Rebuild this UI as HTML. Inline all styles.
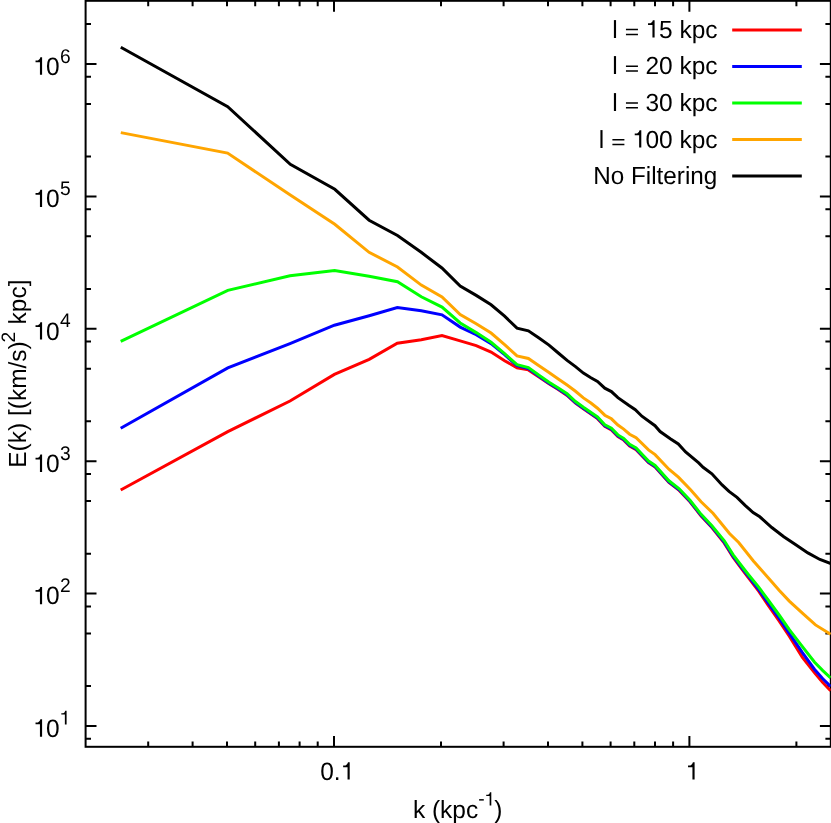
<!DOCTYPE html>
<html><head><meta charset="utf-8"><title>E(k)</title>
<style>
html,body{margin:0;padding:0;background:#fff;}
body{width:831px;height:823px;overflow:hidden;}
svg{display:block;will-change:transform;}
text{font-family:"Liberation Sans",sans-serif;fill:#000;text-rendering:geometricPrecision;}
</style></head><body>
<svg width="831" height="823" viewBox="0 0 831 823">
<rect x="0" y="0" width="831" height="823" fill="#fff"/>
<g stroke="#000" stroke-width="2" fill="none" stroke-linecap="butt">
<rect x="85.6" y="0.8" width="745.2" height="746.0"/>
<path d="M148.2 746.8V741.4M148.2 0.8V6.2"/>
<path d="M192.6 746.8V741.4M192.6 0.8V6.2"/>
<path d="M227.0 746.8V741.4M227.0 0.8V6.2"/>
<path d="M255.2 746.8V741.4M255.2 0.8V6.2"/>
<path d="M278.9 746.8V741.4M278.9 0.8V6.2"/>
<path d="M299.6 746.8V741.4M299.6 0.8V6.2"/>
<path d="M317.7 746.8V741.4M317.7 0.8V6.2"/>
<path d="M334.0 746.8V735.9M334.0 0.8V11.7"/>
<path d="M441.0 746.8V741.4M441.0 0.8V6.2"/>
<path d="M503.6 746.8V741.4M503.6 0.8V6.2"/>
<path d="M548.0 746.8V741.4M548.0 0.8V6.2"/>
<path d="M582.4 746.8V741.4M582.4 0.8V6.2"/>
<path d="M610.6 746.8V741.4M610.6 0.8V6.2"/>
<path d="M634.3 746.8V741.4M634.3 0.8V6.2"/>
<path d="M655.0 746.8V741.4M655.0 0.8V6.2"/>
<path d="M673.1 746.8V741.4M673.1 0.8V6.2"/>
<path d="M689.4 746.8V735.9M689.4 0.8V11.7"/>
<path d="M796.4 746.8V741.4M796.4 0.8V6.2"/>
<path d="M85.6 738.8H91.0M830.8 738.8H825.4"/>
<path d="M85.6 726.0H96.5M830.8 726.0H819.9"/>
<path d="M85.6 686.1H91.0M830.8 686.1H825.4"/>
<path d="M85.6 633.5H91.0M830.8 633.5H825.4"/>
<path d="M85.6 606.4H91.0M830.8 606.4H825.4"/>
<path d="M85.6 593.6H96.5M830.8 593.6H819.9"/>
<path d="M85.6 553.7H91.0M830.8 553.7H825.4"/>
<path d="M85.6 501.1H91.0M830.8 501.1H825.4"/>
<path d="M85.6 474.0H91.0M830.8 474.0H825.4"/>
<path d="M85.6 461.2H96.5M830.8 461.2H819.9"/>
<path d="M85.6 421.3H91.0M830.8 421.3H825.4"/>
<path d="M85.6 368.7H91.0M830.8 368.7H825.4"/>
<path d="M85.6 341.6H91.0M830.8 341.6H825.4"/>
<path d="M85.6 328.8H96.5M830.8 328.8H819.9"/>
<path d="M85.6 288.9H91.0M830.8 288.9H825.4"/>
<path d="M85.6 236.3H91.0M830.8 236.3H825.4"/>
<path d="M85.6 209.2H91.0M830.8 209.2H825.4"/>
<path d="M85.6 196.4H96.5M830.8 196.4H819.9"/>
<path d="M85.6 156.5H91.0M830.8 156.5H825.4"/>
<path d="M85.6 103.9H91.0M830.8 103.9H825.4"/>
<path d="M85.6 76.8H91.0M830.8 76.8H825.4"/>
<path d="M85.6 64.0H96.5M830.8 64.0H819.9"/>
<path d="M85.6 24.1H91.0M830.8 24.1H825.4"/>
</g>
<defs><clipPath id="c"><rect x="85.6" y="0.8" width="745.2" height="746.0"/></clipPath></defs>
<g clip-path="url(#c)" fill="none" stroke-width="3" stroke-linejoin="miter" stroke-linecap="butt">
<polyline stroke="#ff0000" points="120.7,490.0 227.8,431.7 290.0,401.0 334.4,374.4 369.2,359.3 397.3,343.3 421.3,339.8 442.0,335.6 460.2,340.9 476.2,345.6 491.1,352.0 504.6,360.7 517.0,367.7 528.4,369.9 539.0,376.9 549.0,383.8 558.3,389.6 567.1,395.4 575.5,403.1 583.4,408.9 597.5,418.6 604.8,426.3 611.4,429.9 617.9,436.5 623.7,440.1 629.6,446.0 636.1,449.6 648.5,462.7 655.1,467.1 668.9,482.4 679.2,490.4 690.0,501.8 700.9,515.7 711.9,527.6 724.3,543.1 733.2,557.3 742.4,569.8 748.3,577.5 758.5,590.9 767.4,604.1 779.1,620.8 789.3,636.2 802.4,657.4 814.6,672.9 822.8,682.6 830.6,690.7"/>
<polyline stroke="#0000ff" points="120.7,428.3 227.8,367.9 290.0,343.6 334.4,325.2 369.2,315.7 397.3,307.5 421.3,310.8 442.0,314.8 460.2,327.1 476.2,334.7 491.1,343.6 504.6,354.7 517.0,365.7 528.4,368.6 539.0,376.3 549.0,383.2 558.3,389.0 567.1,394.8 575.5,402.5 583.4,408.3 597.5,418.0 604.8,425.7 611.4,429.3 617.9,435.9 623.7,439.5 629.6,445.4 636.1,449.0 648.5,462.1 655.1,466.5 668.9,481.8 679.2,489.8 690.0,501.2 700.9,515.1 711.9,526.9 724.3,542.1 733.2,556.3 742.4,568.6 748.3,576.2 758.5,589.2 767.4,601.9 779.1,618.2 789.3,633.3 802.4,652.6 814.6,669.5 822.8,678.8 830.6,686.4"/>
<polyline stroke="#00ff00" points="120.7,341.4 227.8,290.4 290.0,275.7 334.6,270.4 369.1,276.3 397.5,281.7 421.3,296.8 442.0,307.1 460.2,323.0 476.2,332.6 491.1,342.3 504.6,353.7 517.0,364.7 528.4,367.6 539.0,375.3 549.0,382.2 558.3,388.0 567.1,393.8 575.5,401.5 583.4,407.3 597.5,417.0 604.8,424.7 611.4,428.3 617.9,434.9 623.7,438.5 629.6,444.4 636.1,448.0 648.5,461.1 655.1,465.5 668.9,480.8 679.2,488.8 690.0,500.2 700.9,514.1 711.9,525.7 724.3,540.8 733.2,554.8 742.4,567.0 748.3,574.5 758.5,586.9 767.4,599.0 779.1,615.0 789.3,629.6 802.4,646.7 814.6,662.2 822.8,670.6 830.6,677.8"/>
<polyline stroke="#ffa500" points="120.8,132.6 227.6,153.1 290.3,195.0 334.8,224.3 369.1,252.3 397.5,267.0 421.3,285.1 442.0,297.0 460.2,314.5 476.2,323.7 491.1,333.0 504.6,344.7 517.0,355.9 528.4,358.5 539.0,365.8 549.0,372.4 558.3,378.9 567.1,385.1 575.5,391.3 583.4,397.9 590.9,403.0 597.5,408.2 604.8,415.2 611.4,418.8 617.9,425.1 623.7,429.1 629.6,434.2 636.1,437.8 648.5,449.9 655.1,454.6 668.9,469.2 678.4,477.2 690.8,490.0 701.1,501.7 713.0,513.3 729.5,533.5 738.7,542.5 753.4,561.0 771.7,581.7 779.1,590.2 789.3,601.1 802.4,613.2 815.5,624.9 830.6,634.3"/>
<polyline stroke="#000000" points="120.8,47.3 227.7,106.6 290.3,164.4 334.8,189.3 369.1,220.2 397.5,235.5 421.2,252.3 441.9,268.0 460.2,286.0 476.2,295.4 491.1,304.8 504.6,316.2 517.0,328.2 528.4,330.8 539.0,338.1 549.0,345.1 558.3,353.0 567.1,360.4 575.5,366.6 583.4,373.1 590.9,377.7 597.5,381.5 604.8,388.2 611.4,391.6 617.9,397.7 628.7,405.3 635.3,409.7 641.9,416.2 655.0,425.7 660.1,431.6 670.3,438.8 678.3,444.0 685.6,452.0 698.7,462.9 703.1,467.3 711.9,473.8 722.1,484.9 729.0,491.4 737.0,497.4 745.1,505.4 753.1,512.5 759.8,516.8 771.8,527.5 783.8,536.8 795.8,544.8 807.9,552.9 819.9,559.5 830.8,563.5"/>
</g>
<line x1="732.2" y1="29.9" x2="801.8" y2="29.9" stroke="#ff0000" stroke-width="3"/>
<text transform="translate(612.2 37.5) scale(1 1.010)" font-size="24.5" text-anchor="start">l</text>
<path d="M625.95 28.85h12.0v1.5h-12.0zM625.95 33.65h12.0v1.5h-12.0z" fill="#000"/>
<path transform="translate(654.60 37.50) scale(0.02450 -0.02450)" d="M0 0H-88V508H-268V579H-170Q-92 592 -71 709H0Z" fill="#000"/>
<text transform="translate(717.6 37.5) scale(1 1.010)" font-size="24.5" text-anchor="end">5 kpc</text>
<line x1="732.2" y1="66.4" x2="801.8" y2="66.4" stroke="#0000ff" stroke-width="3"/>
<text transform="translate(612.2 74.2) scale(1 1.010)" font-size="24.5" text-anchor="start">l</text>
<path d="M625.95 65.55h12.0v1.5h-12.0zM625.95 70.35h12.0v1.5h-12.0z" fill="#000"/>
<text transform="translate(717.6 74.2) scale(1 1.010)" font-size="24.5" text-anchor="end">20 kpc</text>
<line x1="732.2" y1="103.0" x2="801.8" y2="103.0" stroke="#00ff00" stroke-width="3"/>
<text transform="translate(612.2 110.9) scale(1 1.010)" font-size="24.5" text-anchor="start">l</text>
<path d="M625.95 102.25h12.0v1.5h-12.0zM625.95 107.05h12.0v1.5h-12.0z" fill="#000"/>
<text transform="translate(717.6 110.9) scale(1 1.010)" font-size="24.5" text-anchor="end">30 kpc</text>
<line x1="732.2" y1="139.5" x2="801.8" y2="139.5" stroke="#ffa500" stroke-width="3"/>
<text transform="translate(598.7 147.6) scale(1 1.010)" font-size="24.5" text-anchor="start">l</text>
<path d="M612.40 138.95h12.0v1.5h-12.0zM612.40 143.75h12.0v1.5h-12.0z" fill="#000"/>
<path transform="translate(641.30 147.60) scale(0.02450 -0.02450)" d="M0 0H-88V508H-268V579H-170Q-92 592 -71 709H0Z" fill="#000"/>
<text transform="translate(717.6 147.6) scale(1 1.010)" font-size="24.5" text-anchor="end">00 kpc</text>
<line x1="732.2" y1="176.1" x2="801.8" y2="176.1" stroke="#000000" stroke-width="3"/>
<text transform="translate(717.3 184.3) scale(0.99 1.01)" font-size="24.5" text-anchor="end">No Filtering</text>
<path transform="translate(42.10 736.70) scale(0.02450 -0.02450)" d="M0 0H-88V508H-268V579H-170Q-92 592 -71 709H0Z" fill="#000"/>
<text transform="translate(59.6 736.7) scale(1 1.030)" font-size="24.5" text-anchor="end">0</text>
<path transform="translate(66.60 724.60) scale(0.01970 -0.01970)" d="M0 0H-88V508H-268V579H-170Q-92 592 -71 709H0Z" fill="#000"/>
<path transform="translate(42.10 604.30) scale(0.02450 -0.02450)" d="M0 0H-88V508H-268V579H-170Q-92 592 -71 709H0Z" fill="#000"/>
<text transform="translate(59.6 604.3) scale(1 1.030)" font-size="24.5" text-anchor="end">0</text>
<text transform="translate(59.9 592.2) scale(1 1.030)" font-size="19.2" text-anchor="start">2</text>
<path transform="translate(42.10 471.90) scale(0.02450 -0.02450)" d="M0 0H-88V508H-268V579H-170Q-92 592 -71 709H0Z" fill="#000"/>
<text transform="translate(59.6 471.9) scale(1 1.030)" font-size="24.5" text-anchor="end">0</text>
<text transform="translate(59.9 459.8) scale(1 1.030)" font-size="19.2" text-anchor="start">3</text>
<path transform="translate(42.10 339.50) scale(0.02450 -0.02450)" d="M0 0H-88V508H-268V579H-170Q-92 592 -71 709H0Z" fill="#000"/>
<text transform="translate(59.6 339.5) scale(1 1.030)" font-size="24.5" text-anchor="end">0</text>
<text transform="translate(59.9 327.4) scale(1 1.030)" font-size="19.2" text-anchor="start">4</text>
<path transform="translate(42.10 207.10) scale(0.02450 -0.02450)" d="M0 0H-88V508H-268V579H-170Q-92 592 -71 709H0Z" fill="#000"/>
<text transform="translate(59.6 207.1) scale(1 1.030)" font-size="24.5" text-anchor="end">0</text>
<text transform="translate(59.9 195.0) scale(1 1.030)" font-size="19.2" text-anchor="start">5</text>
<path transform="translate(42.10 74.70) scale(0.02450 -0.02450)" d="M0 0H-88V508H-268V579H-170Q-92 592 -71 709H0Z" fill="#000"/>
<text transform="translate(59.6 74.7) scale(1 1.030)" font-size="24.5" text-anchor="end">0</text>
<text transform="translate(59.9 62.6) scale(1 1.030)" font-size="19.2" text-anchor="start">6</text>
<text transform="translate(320.2 779.6) scale(1 1.030)" font-size="24.5" text-anchor="start">0.</text>
<path transform="translate(349.70 779.60) scale(0.02450 -0.02450)" d="M0 0H-88V508H-268V579H-170Q-92 592 -71 709H0Z" fill="#000"/>
<path transform="translate(694.60 779.60) scale(0.02450 -0.02450)" d="M0 0H-88V508H-268V579H-170Q-92 592 -71 709H0Z" fill="#000"/>
<text transform="translate(412.9 817.6) scale(1 1.010)" font-size="24.5" text-anchor="start">k (kpc<tspan font-size="19.2" dy="-12">-</tspan></text>
<path transform="translate(491.30 805.60) scale(0.01890 -0.01890)" d="M0 0H-88V508H-268V579H-170Q-92 592 -71 709H0Z" fill="#000"/>
<text transform="translate(494.2 817.6) scale(1 1.010)" font-size="24.5" text-anchor="start">)</text>
<text transform="translate(25.6 467.8) rotate(-90) scale(1 1.010)" font-size="24.5" text-anchor="start">E(k) [(km/s)<tspan font-size="19.2" dy="-10.5" dx="-1.3">2</tspan><tspan dy="10.5" dx="0.6"> kpc]</tspan></text>
</svg></body></html>
